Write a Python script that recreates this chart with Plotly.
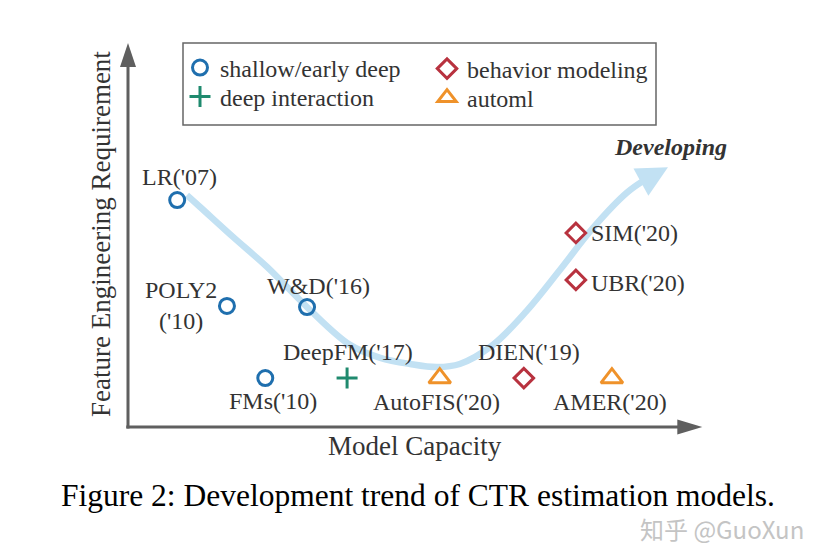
import plotly.graph_objects as go

# ---------------- data ----------------
shallow_names = ["LR('07)", "POLY2<br>('10)", "W&D('16)", "FMs('10)"]
shallow_x = [0.86, 1.73, 3.13, 2.40]
shallow_y = [5.94, 3.17, 3.14, 1.28]

deep_names = ["DeepFM('17)"]
deep_x = [3.83]
deep_y = [1.28]

behavior_names = ["DIEN('19)", "SIM('20)", "UBR('20)"]
behavior_x = [6.92, 7.83, 7.83]
behavior_y = [1.28, 5.08, 3.85]

automl_names = ["AutoFIS('20)", "AMER('20)"]
automl_x = [5.45, 8.46]
automl_y = [1.28, 1.28]

trend_x = [1.03, 1.26, 1.84, 2.43, 3.13, 3.88, 4.41, 4.93, 5.40, 5.80, 6.38, 6.97, 7.55, 8.13, 8.72, 9.04]
trend_y = [6.07, 5.76, 4.97, 4.19, 3.14, 2.15, 1.81, 1.65, 1.57, 1.65, 2.15, 3.04, 4.11, 5.21, 6.13, 6.47]
trend_tip = (9.44, 6.80)

x_axis_end = 10.04
y_axis_end = 10.05

# ---------------- style ----------------
OFF = 8                      # page body margin
W, H = 826 - 2 * OFF, 559 - 2 * OFF
SERIF = "Liberation Serif"
TXT = "#333333"
AXC = "#5f5f5f"
C_BLUE = "#1f6fae"
C_GREEN = "#1f8a6e"
C_RED = "#b8323f"
C_ORANGE = "#ef922a"
C_TREND = "#c2e1f3"

# label offsets in pixels (xshift, yshift, xanchor)
label_style = {
    "LR('07)": (2, 23, "center"),
    "POLY2<br>('10)": (-46, 0, "center"),
    "W&D('16)": (11, 21, "center"),
    "FMs('10)": (8, -23, "center"),
    "DeepFM('17)": (1, 26, "center"),
    "AutoFIS('20)": (-3, -24, "center"),
    "DIEN('19)": (5, 26, "center"),
    "AMER('20)": (-2, -24, "center"),
    "SIM('20)": (13, 0, "left"),
    "UBR('20)": (13, -3, "left"),
}


def px_x(p):
    return (p - OFF) / W


def px_y(p):
    return 1 - (p - OFF) / H


# axis scale: x=0 at page px 128 (57.2 px/unit), y=0 at page py 427 (38.2 px/unit)
x0_fig, y0_fig = 128 - OFF, 427 - OFF
xr = [-x0_fig / 57.2, (W - x0_fig) / 57.2]
yr = [-(H - y0_fig) / 38.2, y0_fig / 38.2]

fig = go.Figure()

# trend curve
fig.add_trace(go.Scatter(
    x=trend_x, y=trend_y, mode="lines",
    line=dict(color=C_TREND, width=6.5, shape="spline", smoothing=1.0),
    showlegend=False, hoverinfo="skip"))

fig.add_trace(go.Scatter(
    x=shallow_x, y=shallow_y, mode="markers", name="shallow/early deep",
    marker=dict(symbol="circle-open", size=15, color=C_BLUE, line=dict(width=3, color=C_BLUE)),
    legend="legend"))
fig.add_trace(go.Scatter(
    x=deep_x, y=deep_y, mode="markers", name="deep interaction",
    marker=dict(symbol="cross-thin-open", size=15, color=C_GREEN, line=dict(width=3, color=C_GREEN)),
    legend="legend2"))
fig.add_trace(go.Scatter(
    x=behavior_x, y=behavior_y, mode="markers", name="behavior modeling",
    marker=dict(symbol="diamond-open", size=15, color=C_RED, line=dict(width=3, color=C_RED)),
    legend="legend3"))
fig.add_trace(go.Scatter(
    x=automl_x, y=automl_y, mode="markers", name="automl",
    marker=dict(symbol="triangle-up-open", size=19, color=C_ORANGE, line=dict(width=3, color=C_ORANGE)),
    legend="legend4"))

annotations = []
for names, xs, ys in [(shallow_names, shallow_x, shallow_y), (deep_names, deep_x, deep_y),
                      (behavior_names, behavior_x, behavior_y), (automl_names, automl_x, automl_y)]:
    for n, x, y in zip(names, xs, ys):
        dx, dy, xa = label_style[n]
        annotations.append(dict(x=x, y=y, xref="x", yref="y", text=n, showarrow=False,
                                xshift=dx, yshift=dy, xanchor=xa, yanchor="middle",
                                font=dict(family=SERIF, size=24, color=TXT)))

# trend arrow head
annotations.append(dict(x=trend_tip[0], y=trend_tip[1], ax=trend_x[-1], ay=trend_y[-1],
                        xref="x", yref="y", axref="x", ayref="y", text="", showarrow=True,
                        arrowhead=2, arrowsize=0.95, arrowwidth=6.5, arrowcolor=C_TREND))

# axis titles / text
common = dict(xref="paper", yref="paper", showarrow=False, xanchor="center", yanchor="middle")
annotations += [
    dict(x=px_x(415), y=px_y(446), text="Model Capacity",
         font=dict(family=SERIF, size=27, color=TXT), **common),
    dict(x=px_x(101), y=px_y(234), text="Feature Engineering Requirement", textangle=-90,
         font=dict(family=SERIF, size=27, color=TXT), **common),
    dict(x=px_x(670), y=px_y(147), text="<b><i>Developing</i></b>",
         font=dict(family=SERIF, size=24, color=TXT), **common),
    dict(x=px_x(418), y=px_y(495), text="Figure 2: Development trend of CTR estimation models.",
         font=dict(family=SERIF, size=31.5, color="#000000"), **common),
    dict(x=px_x(722), y=px_y(528), text="知乎 @GuoXun",
         font=dict(family="Noto Sans CJK SC", size=24, color="#c4c4c4"), **common),
]

shapes = [
    # axes
    dict(type="line", xref="x", yref="y", x0=0, y0=-0.04, x1=0, y1=y_axis_end - 0.5,
         line=dict(color=AXC, width=3)),
    dict(type="line", xref="x", yref="y", x0=-0.03, y0=0, x1=x_axis_end - 0.35, y1=0,
         line=dict(color=AXC, width=3)),
    dict(type="path", xref="x", yref="y", xsizemode="pixel", ysizemode="pixel",
         xanchor=0, yanchor=y_axis_end, path="M0,0 L-8,-24 L8,-24 Z",
         fillcolor=AXC, line=dict(width=0)),
    dict(type="path", xref="x", yref="y", xsizemode="pixel", ysizemode="pixel",
         xanchor=x_axis_end, yanchor=0, path="M0,0 L-25,7.5 L-25,-7.5 Z",
         fillcolor=AXC, line=dict(width=0)),
    # legend frame
    dict(type="rect", xref="paper", yref="paper", x0=px_x(183), x1=px_x(656), y0=px_y(125), y1=px_y(43),
         line=dict(color="#666666", width=1.5), fillcolor="rgba(0,0,0,0)"),
]

leg_common = dict(xanchor="left", yanchor="middle", bgcolor="rgba(0,0,0,0)", borderwidth=0,
                  font=dict(family=SERIF, size=24, color=TXT), itemwidth=30)

fig.update_layout(
    width=W, height=H,
    margin=dict(l=0, r=0, t=0, b=0),
    paper_bgcolor="white", plot_bgcolor="white",
    xaxis=dict(range=xr, visible=False, fixedrange=True),
    yaxis=dict(range=yr, visible=False, fixedrange=True),
    annotations=annotations,
    shapes=shapes,
    legend=dict(x=px_x(180), y=px_y(68), **leg_common),
    legend2=dict(x=px_x(180), y=px_y(97), **leg_common),
    legend3=dict(x=px_x(427), y=px_y(69), **leg_common),
    legend4=dict(x=px_x(427), y=px_y(98), **leg_common),
)

fig.write_html("out.html")
